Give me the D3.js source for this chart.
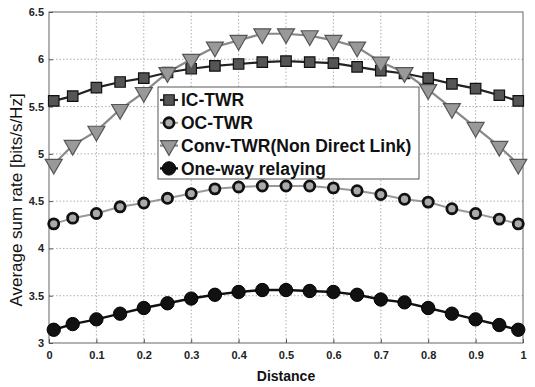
<!DOCTYPE html>
<html>
<head>
<meta charset="utf-8">
<script src="https://cdn.jsdelivr.net/npm/d3@7"></script>
<style>
  body { margin: 0; background: #fff; }
  svg { font-family: "Liberation Sans", Arial, sans-serif; }
</style>
</head>
<body>
<div id="chart"></div>
<script>
const distance = [0.01, 0.05, 0.1, 0.15, 0.2, 0.25, 0.3, 0.35, 0.4, 0.45, 0.5,
  0.55, 0.6, 0.65, 0.7, 0.75, 0.8, 0.85, 0.9, 0.95, 0.99];
const icTwr = [5.56, 5.61, 5.70, 5.76, 5.80, 5.86, 5.90, 5.93, 5.95, 5.97, 5.98,
  5.97, 5.96, 5.92, 5.88, 5.85, 5.80, 5.74, 5.69, 5.62, 5.56];
const ocTwr = [4.26, 4.32, 4.37, 4.44, 4.48, 4.53, 4.58, 4.63, 4.65, 4.66, 4.66,
  4.66, 4.64, 4.61, 4.57, 4.52, 4.49, 4.42, 4.37, 4.31, 4.26];
const convTwr = [4.89, 5.09, 5.24, 5.47, 5.65, 5.86, 6.00, 6.13, 6.20, 6.27, 6.27,
  6.25, 6.20, 6.13, 5.97, 5.86, 5.68, 5.48, 5.28, 5.08, 4.89];
const oneWay = [3.14, 3.20, 3.25, 3.31, 3.37, 3.42, 3.47, 3.51, 3.54, 3.56, 3.56,
  3.55, 3.54, 3.51, 3.46, 3.43, 3.37, 3.31, 3.25, 3.19, 3.14];
const xTicks = [0, 0.1, 0.2, 0.3, 0.4, 0.5, 0.6, 0.7, 0.8, 0.9, 1];
const yTicks = [3, 3.5, 4, 4.5, 5, 5.5, 6, 6.5];

const W = 535, H = 387;
const margin = { top: 12, right: 12, bottom: 44, left: 49 };
const width = W - margin.left - margin.right;
const height = H - margin.top - margin.bottom;

const series = [
  { name: 'IC-TWR', values: icTwr, line: '#222', lw: 2.2, symbol: d3.symbolSquare, size: 110, fill: '#555', stroke: '#111', sw: 1.2, rot: 0 },
  { name: 'OC-TWR', values: ocTwr, line: '#999', lw: 2, symbol: d3.symbolCircle, size: 80, fill: '#aaa', stroke: '#111', sw: 2.8, rot: 0 },
  { name: 'Conv-TWR(Non Direct Link)', values: convTwr, line: '#888', lw: 2.2, symbol: d3.symbolTriangle, size: 125, fill: '#999', stroke: '#555', sw: 1.2, rot: 180 },
  { name: 'One-way relaying', values: oneWay, line: '#111', lw: 2.4, symbol: d3.symbolCircle, size: 140, fill: '#111', stroke: '#000', sw: 1, rot: 0 }
];

const svg = d3.select('#chart').append('svg')
  .attr('width', W).attr('height', H);
const g = svg.append('g').attr('transform', `translate(${margin.left},${margin.top})`);

const x = d3.scaleLinear().domain([0, 1]).range([0, width]);
const y = d3.scaleLinear().domain([3, 6.5]).range([height, 0]);

// grid
g.append('g').selectAll('line').data(xTicks.slice(1, -1)).enter().append('line')
  .attr('x1', d => x(d)).attr('x2', d => x(d)).attr('y1', 0).attr('y2', height)
  .attr('stroke', '#999').attr('stroke-width', 0.8).attr('stroke-dasharray', '1.5,2');
g.append('g').selectAll('line').data(yTicks.slice(1, -1)).enter().append('line')
  .attr('y1', d => y(d)).attr('y2', d => y(d)).attr('x1', 0).attr('x2', width)
  .attr('stroke', '#999').attr('stroke-width', 0.8).attr('stroke-dasharray', '1.5,2');

// frame
g.append('rect').attr('width', width).attr('height', height)
  .attr('fill', 'none').attr('stroke', '#555').attr('stroke-width', 0.9);

// axes
const xAxis = g.append('g').attr('transform', `translate(0,${height})`)
  .call(d3.axisBottom(x).tickValues(xTicks).tickSize(-4).tickPadding(8).tickFormat(d3.format('')));
const yAxis = g.append('g')
  .call(d3.axisLeft(y).tickValues(yTicks).tickSize(-4).tickPadding(5).tickFormat(d3.format('')));
[xAxis, yAxis].forEach(a => {
  a.select('.domain').remove();
  a.selectAll('line').attr('stroke', '#555');
  a.selectAll('text').attr('font-size', 11).attr('font-weight', 'bold').attr('fill', '#222');
});

// series
const line = d3.line().x((d, i) => x(distance[i])).y(d => y(d));
series.forEach(s => {
  g.append('path').datum(s.values).attr('d', line)
    .attr('fill', 'none').attr('stroke', s.line).attr('stroke-width', s.lw);
  g.append('g').selectAll('path').data(s.values).enter().append('path')
    .attr('d', d3.symbol().type(s.symbol).size(s.size))
    .attr('transform', (d, i) => `translate(${x(distance[i])},${y(d)}) rotate(${s.rot})`)
    .attr('fill', s.fill).attr('stroke', s.stroke).attr('stroke-width', s.sw);
});

// legend
const lg = svg.append('g').attr('transform', 'translate(158,87)');
lg.append('rect').attr('width', 261).attr('height', 92)
  .attr('fill', '#fff').attr('stroke', '#444').attr('stroke-width', 0.9);
series.forEach((s, i) => {
  const yy = 13 + i * 22.8;
  lg.append('line').attr('x1', 2).attr('x2', 20).attr('y1', yy).attr('y2', yy)
    .attr('stroke', s.line).attr('stroke-width', s.lw);
  lg.append('path').attr('d', d3.symbol().type(s.symbol).size(s.size))
    .attr('transform', `translate(11,${yy}) rotate(${s.rot})`)
    .attr('fill', s.fill).attr('stroke', s.stroke).attr('stroke-width', s.sw);
  lg.append('text').attr('x', 23).attr('y', yy).attr('dy', '0.36em')
    .attr('font-size', 17.5).attr('font-weight', 'bold').attr('fill', '#111')
    .text(s.name);
});

// axis labels
svg.append('text').attr('x', margin.left + width / 2).attr('y', 381)
  .attr('text-anchor', 'middle').attr('font-size', 14).attr('font-weight', 'bold')
  .attr('fill', '#111').text('Distance');
svg.append('text').attr('transform', `translate(22,200) rotate(-90)`)
  .attr('text-anchor', 'middle').attr('font-size', 17).attr('fill', '#111')
  .text('Average sum rate [bits/s/Hz]');
</script>
</body>
</html>
